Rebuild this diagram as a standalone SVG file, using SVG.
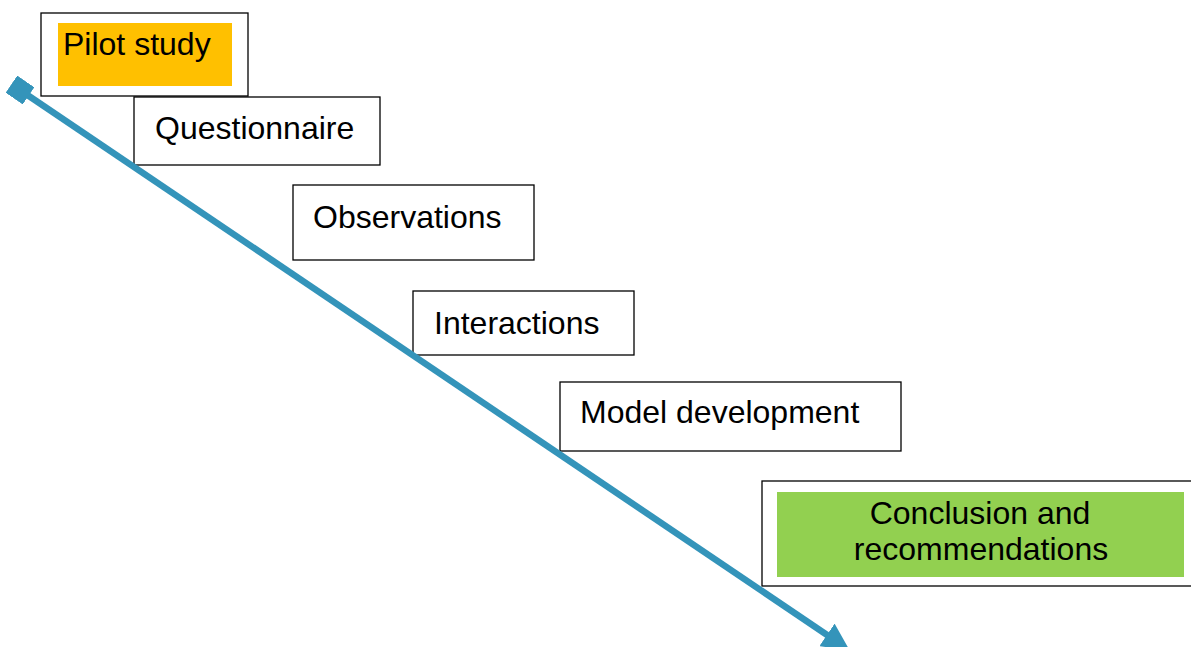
<svg xmlns="http://www.w3.org/2000/svg" width="1191" height="647" viewBox="0 0 1191 647">
<defs>
<style>
.box{fill:#fff;stroke:#000;stroke-width:1.3}
.t{font-family:"Liberation Sans",Arial,sans-serif;font-size:32px;fill:#000}
.c{text-anchor:middle}
</style>
<marker id="sq" viewBox="0 0 10 10" refX="5" refY="5" markerWidth="3.2" markerHeight="3.2" orient="auto" markerUnits="strokeWidth">
<rect x="0" y="0" width="10" height="10" fill="#3494BA"/>
</marker>
<marker id="tri" viewBox="0 0 10 10" refX="4" refY="5" markerWidth="4.2" markerHeight="4.2" orient="auto" markerUnits="strokeWidth">
<path d="M0,0 L10,5 L0,10 Z" fill="#3494BA"/>
</marker>
</defs>
<rect width="1191" height="647" fill="#fff"/>
<g id="n1">
<rect class="box" x="41" y="13" width="207" height="83"/>
<rect x="58" y="23" width="174" height="63" fill="#FFC000"/>
<text class="t" x="63" y="55">Pilot study</text>
</g>
<g id="n2">
<rect class="box" x="134" y="97" width="246" height="68"/>
<text class="t" x="155" y="139">Questionnaire</text>
</g>
<g id="n3">
<rect class="box" x="293" y="185" width="241" height="75"/>
<text class="t" x="313" y="228">Observations</text>
</g>
<g id="n4">
<rect class="box" x="413" y="291" width="221" height="64"/>
<text class="t" x="434" y="334">Interactions</text>
</g>
<g id="n5">
<rect class="box" x="560" y="382" width="341" height="69"/>
<text class="t" x="580" y="423">Model development</text>
</g>
<g id="n6">
<rect class="box" x="762" y="481" width="432" height="105"/>
<rect x="777" y="492" width="407" height="85" fill="#92D050"/>
<text class="t c" x="980" y="524">Conclusion and</text>
<text class="t c" x="981" y="560">recommendations</text>
</g>
<g id="connectors">
<line x1="20" y1="90" x2="836" y2="641" stroke="#3494BA" stroke-width="6.5" marker-start="url(#sq)" marker-end="url(#tri)"/>
</g>
</svg>
